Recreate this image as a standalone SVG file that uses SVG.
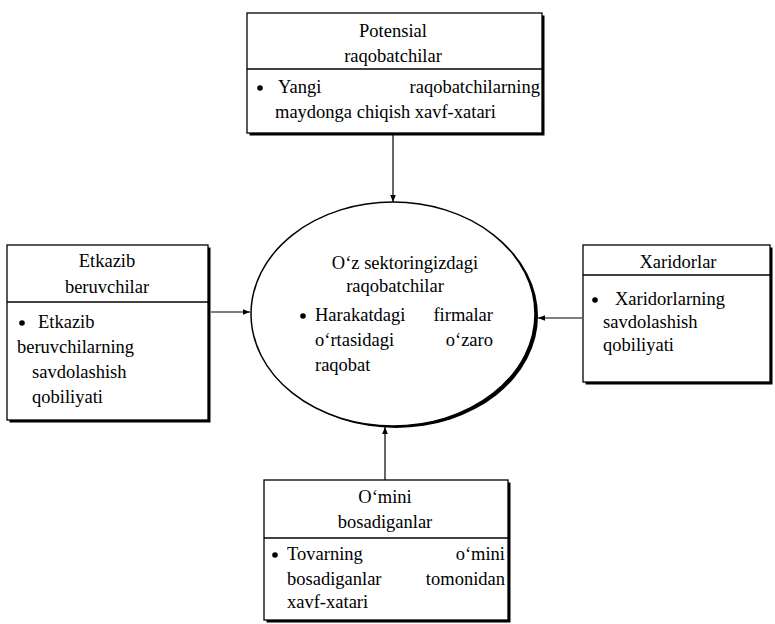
<svg xmlns="http://www.w3.org/2000/svg" width="775" height="624" viewBox="0 0 775 624">
<defs>
<marker id="arr" viewBox="0 0 10 10" refX="10" refY="5" markerWidth="7" markerHeight="7" markerUnits="userSpaceOnUse" orient="auto">
<path d="M0,1 L10,5 L0,9 Z" fill="#000"/>
</marker>
</defs>
<style>
text{font-family:"Liberation Serif","Times New Roman",serif;font-size:18.5px;fill:#000}
.c{text-anchor:middle}
.e{text-anchor:end}
.box{fill:#fff;stroke:#000;stroke-width:1.3}
.sh{fill:#000}
.div{stroke:#000;stroke-width:1.3}
.con{stroke:#000;stroke-width:1.2;fill:none}
</style>
<rect width="775" height="624" fill="#fff"/>
<g id="connectors">
<line class="con" x1="393" y1="135" x2="393" y2="202" marker-end="url(#arr)"/>
<line class="con" x1="211" y1="312" x2="250" y2="312" marker-end="url(#arr)"/>
<line class="con" x1="582" y1="318" x2="538" y2="318" marker-end="url(#arr)"/>
<line class="con" x1="385" y1="480" x2="385" y2="427" marker-end="url(#arr)"/>
</g>
<g id="center">
<ellipse cx="396" cy="316" rx="142" ry="112" class="sh"/>
<ellipse cx="393" cy="314" rx="142" ry="112" fill="#fff" stroke="#000" stroke-width="1.5"/>
<text x="405" y="269" class="c">O‘z sektoringizdagi</text>
<text x="395" y="292" class="c">raqobatchilar</text>
<circle cx="303" cy="316" r="2.8"/>
<text x="315" y="321">Harakatdagi</text>
<text x="493" y="321" class="e">firmalar</text>
<text x="315" y="346">o‘rtasidagi</text>
<text x="493" y="346" class="e">o‘zaro</text>
<text x="315" y="371">raqobat</text>
</g>
<g id="potential">
<rect x="249.5" y="15.5" width="295" height="120" class="sh"/>
<rect x="247" y="13" width="295" height="120" class="box"/>
<line x1="247" y1="69" x2="542" y2="69" class="div"/>
<text x="393" y="37" class="c">Potensial</text>
<text x="393" y="62" class="c">raqobatchilar</text>
<circle cx="260" cy="88" r="2.8"/>
<text x="278" y="93">Yangi</text>
<text x="540" y="93" class="e">raqobatchilarning</text>
<text x="275" y="118">maydonga chiqish xavf-xatari</text>
</g>
<g id="suppliers">
<rect x="9.5" y="247.5" width="201" height="175" class="sh"/>
<rect x="7" y="245" width="201" height="175" class="box"/>
<line x1="7" y1="302" x2="208" y2="302" class="div"/>
<text x="107" y="267" class="c">Etkazib</text>
<text x="107" y="293" class="c">beruvchilar</text>
<circle cx="22" cy="323" r="2.8"/>
<text x="38" y="328">Etkazib</text>
<text x="17" y="353">beruvchilarning</text>
<text x="32" y="378">savdolashish</text>
<text x="32" y="403">qobiliyati</text>
</g>
<g id="buyers">
<rect x="585.5" y="247.5" width="187" height="137" class="sh"/>
<rect x="583" y="245" width="187" height="137" class="box"/>
<line x1="583" y1="275" x2="770" y2="275" class="div"/>
<text x="678" y="268" class="c">Xaridorlar</text>
<circle cx="595" cy="300" r="2.8"/>
<text x="615" y="305">Xaridorlarning</text>
<text x="603" y="328">savdolashish</text>
<text x="603" y="351">qobiliyati</text>
</g>
<g id="substitutes">
<rect x="266.5" y="482.5" width="244" height="140" class="sh"/>
<rect x="264" y="480" width="244" height="140" class="box"/>
<line x1="264" y1="538" x2="508" y2="538" class="div"/>
<text x="385" y="503" class="c">O‘mini</text>
<text x="385" y="528" class="c">bosadiganlar</text>
<circle cx="275" cy="555" r="2.8"/>
<text x="287" y="560">Tovarning</text>
<text x="505" y="560" class="e">o‘mini</text>
<text x="287" y="585">bosadiganlar</text>
<text x="505" y="585" class="e">tomonidan</text>
<text x="287" y="608">xavf-xatari</text>
</g>
</svg>
